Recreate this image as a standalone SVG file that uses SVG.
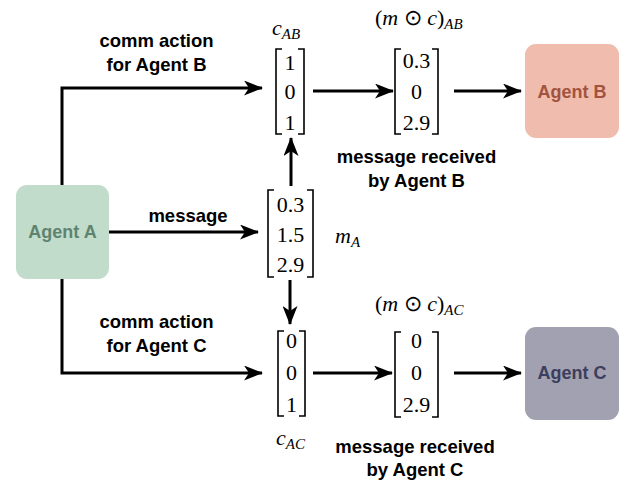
<svg xmlns="http://www.w3.org/2000/svg" width="625" height="482" viewBox="0 0 625 482">
<style>
.lbl{font-family:"Liberation Sans",Arial,sans-serif;font-weight:bold;font-size:18.5px;fill:#000;text-anchor:middle}
.agent{font-family:"Liberation Sans",Arial,sans-serif;font-weight:bold;font-size:18px;text-anchor:middle}
.num{font-family:"Liberation Serif","Times New Roman",serif;font-size:22px;fill:#000;text-anchor:middle}
.math{font-family:"Liberation Serif","Times New Roman",serif;font-size:22px;font-style:italic;fill:#000}
.sub{font-size:15px}
.br{fill:none;stroke:#000;stroke-width:1.6}
.conn{fill:none;stroke:#000;stroke-width:3;marker-end:url(#ah)}
</style>
<defs>
<marker id="ah" viewBox="0 0 19 15" refX="18" refY="7.5" markerWidth="19" markerHeight="15" markerUnits="userSpaceOnUse" orient="auto">
<path d="M0,0 L19,7.5 L0,15 L5,7.5 z" fill="#000"/>
</marker>
</defs>

<g id="connectors">
<path class="conn" d="M62,186 V88 H262"/>
<path class="conn" d="M109,232 H258"/>
<path class="conn" d="M62,279 V373 H262"/>
<path class="conn" d="M291,186 V138"/>
<path class="conn" d="M290,280 V324"/>
<path class="conn" d="M313,91 H393"/>
<path class="conn" d="M454,91 H521"/>
<path class="conn" d="M313,373 H392"/>
<path class="conn" d="M454,373 H521"/>
</g>

<g id="agentA">
<rect x="16" y="185" width="93" height="94" rx="11" fill="#c2dccc"/>
<text class="agent" x="62.5" y="238" fill="#5e8470">Agent A</text>
</g>
<g id="agentB">
<rect x="525" y="44" width="94" height="94" rx="11" fill="#efbcad"/>
<text class="agent" x="572" y="98" fill="#a2533f">Agent B</text>
</g>
<g id="agentC">
<rect x="525" y="327" width="94" height="93" rx="11" fill="#a1a1b1"/>
<text class="agent" x="572" y="379" fill="#3d3d5c">Agent C</text>
</g>

<g id="labelCommB">
<text class="lbl" x="156.5" y="47">comm action</text>
<text class="lbl" x="156.5" y="71">for Agent B</text>
</g>
<g id="labelMessage">
<text class="lbl" x="188" y="222">message</text>
</g>
<g id="labelCommC">
<text class="lbl" x="156.5" y="328">comm action</text>
<text class="lbl" x="156.5" y="352">for Agent C</text>
</g>
<g id="labelRecvB">
<text class="lbl" x="416.5" y="163">message received</text>
<text class="lbl" x="416.5" y="187">by Agent B</text>
</g>
<g id="labelRecvC">
<text class="lbl" x="415" y="453">message received</text>
<text class="lbl" x="415" y="476">by Agent C</text>
</g>

<g id="cAB">
<path class="br" d="M282,49 H276 V134 H282"/>
<path class="br" d="M298,49 H304 V134 H298"/>
<text class="num" x="290" y="70">1</text>
<text class="num" x="290" y="99">0</text>
<text class="num" x="290" y="130">1</text>
<text class="math" x="272" y="35">c<tspan class="sub" dy="4">AB</tspan></text>
</g>

<g id="mcAB">
<path class="br" d="M401,49 H395 V134 H401"/>
<path class="br" d="M432,49 H438 V134 H432"/>
<text class="num" x="416.5" y="68">0.3</text>
<text class="num" x="416.5" y="99">0</text>
<text class="num" x="416.5" y="130">2.9</text>
<text class="math" x="375" y="25"><tspan font-style="normal">(</tspan>m <tspan font-style="normal">⊙</tspan> c<tspan font-style="normal">)</tspan><tspan class="sub" dy="4">AB</tspan></text>
</g>

<g id="mA">
<path class="br" d="M274,190 H268 V277 H274"/>
<path class="br" d="M307,190 H313 V277 H307"/>
<text class="num" x="290.5" y="212">0.3</text>
<text class="num" x="290.5" y="242">1.5</text>
<text class="num" x="290.5" y="272">2.9</text>
<text class="math" x="335" y="243">m<tspan class="sub" dy="4">A</tspan></text>
</g>

<g id="cAC">
<path class="br" d="M284,331 H278 V416 H284"/>
<path class="br" d="M299,331 H305 V416 H299"/>
<text class="num" x="291.5" y="348">0</text>
<text class="num" x="291.5" y="380">0</text>
<text class="num" x="291.5" y="412">1</text>
<text class="math" x="276" y="445">c<tspan class="sub" dy="4">AC</tspan></text>
</g>

<g id="mcAC">
<path class="br" d="M401,332 H395 V417 H401"/>
<path class="br" d="M432,332 H438 V417 H432"/>
<text class="num" x="416.5" y="348">0</text>
<text class="num" x="416.5" y="380">0</text>
<text class="num" x="416.5" y="412">2.9</text>
<text class="math" x="375" y="311"><tspan font-style="normal">(</tspan>m <tspan font-style="normal">⊙</tspan> c<tspan font-style="normal">)</tspan><tspan class="sub" dy="4">AC</tspan></text>
</g>
</svg>
